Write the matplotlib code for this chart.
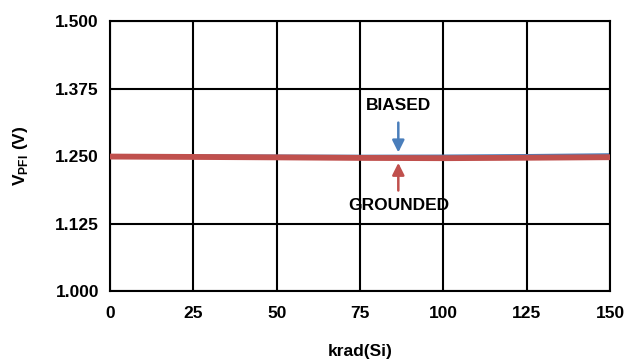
import matplotlib
matplotlib.use('Agg')
import matplotlib.pyplot as plt

plt.rcParams['font.family'] = ['Liberation Sans', 'DejaVu Sans']
plt.rcParams['font.weight'] = 'bold'
plt.rcParams['mathtext.fontset'] = 'custom'
plt.rcParams['mathtext.rm'] = 'Liberation Sans:bold'
plt.rcParams['mathtext.bf'] = 'Liberation Sans:bold'

dose = [0, 25, 50, 75, 100, 125, 150]
biased = [1.2500, 1.2498, 1.2495, 1.2492, 1.2495, 1.2505, 1.2520]
grounded = [1.2490, 1.2483, 1.2475, 1.2465, 1.2460, 1.2468, 1.2478]
xticks = [0, 25, 50, 75, 100, 125, 150]
yticks = [1.000, 1.125, 1.250, 1.375, 1.500]

fs = 12.5

fig = plt.figure(figsize=(6.3, 3.62), dpi=100)
ax = fig.add_axes([0.1746, 0.196, 0.7936, 0.746])

ax.plot(dose, biased, color='#4a7ebb', lw=2.5, zorder=2)
ax.plot(dose, grounded, color='#c0504d', lw=4.2, zorder=3)

ax.set_xlim(0, 150)
ax.set_ylim(1.0, 1.5)
ax.set_xticks(xticks)
ax.set_yticks(yticks)
ax.set_yticklabels(['%.3f' % v for v in yticks])
ax.grid(True, color='black', lw=1.5)
for s in ax.spines.values():
    s.set_linewidth(1.5)
ax.tick_params(length=0, labelsize=fs)
ax.tick_params(axis='x', pad=11)
ax.tick_params(axis='y', pad=8)
ax.set_axisbelow(True)

ax.set_xlabel('krad(Si)', fontsize=fs, fontweight='bold', labelpad=16)
ax.set_ylabel(r'V$_{\mathrm{PFI}}$ (V)', fontsize=fs, fontweight='bold', labelpad=18)

ax.annotate('', xy=(86.5, 1.2515), xytext=(86.5, 1.3170),
            arrowprops=dict(arrowstyle='-|>', color='#4a7ebb', lw=1.8, mutation_scale=18))
ax.text(86.5, 1.3435, 'BIASED', ha='center', va='center', fontsize=fs, fontweight='bold')
ax.annotate('', xy=(86.5, 1.2425), xytext=(86.5, 1.181),
            arrowprops=dict(arrowstyle='-|>', color='#c0504d', lw=1.8, mutation_scale=18))
ax.text(86.5, 1.1585, 'GROUNDED', ha='center', va='center', fontsize=fs, fontweight='bold')

fig.savefig('out.png', dpi=100)
